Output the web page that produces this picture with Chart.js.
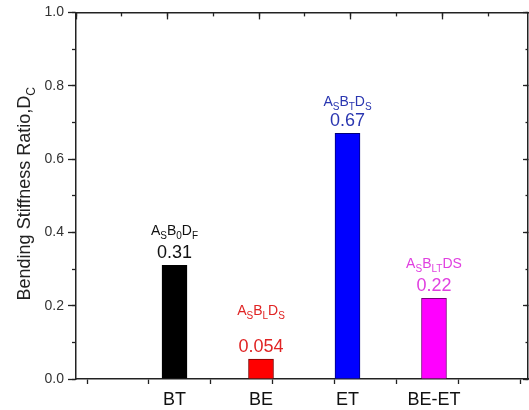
<!DOCTYPE html>
<html>
<head>
<meta charset="utf-8">
<script src="https://cdn.jsdelivr.net/npm/chart.js@4.4.1/dist/chart.umd.min.js"></script>
<style>
  html, body { margin: 0; padding: 0; background: #fff; }
  #wrap { width: 529px; height: 410px; }
</style>
</head>
<body>
<div id="wrap"><canvas id="stiffnessChart" width="529" height="410"></canvas></div>
<script>
// values
const categories = ["BT", "BE", "ET", "BE-ET"];
const stiffnessRatio = [0.31, 0.054, 0.67, 0.22];
const valueLabels = ["0.31", "0.054", "0.67", "0.22"];
const configLabels = ["A_{S}B_{0}D_{F}", "A_{S}B_{L}D_{S}", "A_{S}B_{T}D_{S}", "A_{S}B_{LT}DS"];
const yTickLabels = ["0.0", "0.2", "0.4", "0.6", "0.8", "1.0"];
const yTitle = "Bending Stiffness Ratio,D_{C}";

const barColors = ["#000000", "#ff0000", "#0000ff", "#ff00ff"];
const barEdges = ["#000000", "#7a0000", "#00007a", "#7a007a"];
const textColors = ["#111111", "#e02424", "#2a36b0", "#e040e0"];
const labelGaps = [23, 37, 20, 23]; // hand placed text in the original
const FONT = "Arial, 'Liberation Sans', sans-serif";
const AXIS = "#222";

// draws text with _{...} subscripts, centred on x
function drawRich(ctx, text, x, y, size, color) {
  const parts = text.split(/(_\{[^}]*\})/).filter(p => p.length);
  const subSize = Math.round(size * 0.68);
  const segs = parts.map(p => {
    const sub = p.startsWith("_{");
    const str = sub ? p.slice(2, -1) : p;
    ctx.font = `${sub ? subSize : size}px ${FONT}`;
    return { str, sub, w: ctx.measureText(str).width };
  });
  const total = segs.reduce((a, s) => a + s.w, 0);
  let cx = x - total / 2;
  ctx.fillStyle = color;
  ctx.textAlign = "left";
  ctx.textBaseline = "alphabetic";
  segs.forEach(s => {
    ctx.font = `${s.sub ? subSize : size}px ${FONT}`;
    ctx.fillText(s.str, cx, s.sub ? y + size * 0.28 : y);
    cx += s.w;
  });
}

const annotations = {
  id: "annotations",
  afterDatasetsDraw(chart) {
    const ctx = chart.ctx;
    const meta = chart.getDatasetMeta(0);
    ctx.save();
    meta.data.forEach((bar, i) => {
      const vy = bar.y - 7;
      ctx.font = `18px ${FONT}`;
      ctx.fillStyle = textColors[i];
      ctx.textAlign = "center";
      ctx.textBaseline = "alphabetic";
      ctx.fillText(valueLabels[i], bar.x, vy);
      drawRich(ctx, configLabels[i], bar.x, vy - labelGaps[i], 14, textColors[i]);
    });
    ctx.restore();
  },
  afterDraw(chart) {
    const ctx = chart.ctx;
    const area = chart.chartArea;
    ctx.save();
    ctx.translate(chart.scales.y.left + 30, (area.top + area.bottom) / 2 - 2);
    ctx.rotate(-Math.PI / 2);
    drawRich(ctx, yTitle, 0, 0, 18, AXIS);
    ctx.restore();
  }
};

// decoration axes: tick marks only, no labels, no own space
function tickAxis(position, step, length, min, max, border, weight) {
  const horizontal = position === "top" || position === "bottom";
  return {
    type: "linear",
    position,
    min,
    max,
    weight,
    offset: false,
    ticks: { display: false, stepSize: step, includeBounds: false },
    grid: { drawOnChartArea: false, offset: false, tickLength: length, tickColor: AXIS, tickWidth: 1.3 },
    border: { display: border, color: AXIS, width: 1.5 },
    afterFit: s => { if (horizontal) s.height = 0; else s.width = 0; }
  };
}

new Chart(document.getElementById("stiffnessChart"), {
  type: "bar",
  data: {
    datasets: [{
      data: stiffnessRatio.map((v, i) => ({ x: i + 1, y: v })),
      backgroundColor: barColors,
      borderColor: barEdges,
      borderWidth: 1,
      barThickness: 25,
      xAxisID: "x",
      yAxisID: "y"
    }]
  },
  options: {
    responsive: false,
    animation: false,
    layout: { padding: { top: 11, right: 1, bottom: 0, left: 0 } },
    plugins: { legend: { display: false }, tooltip: { enabled: false } },
    scales: {
      x: {
        type: "linear",
        position: "bottom",
        min: -0.139,
        max: 5.087,
        weight: 1,
        offset: false,
        grid: { display: false, drawTicks: false, offset: false },
        border: { display: false },
        afterBuildTicks: s => { s.ticks = categories.map((c, i) => ({ value: i + 1 })); },
        ticks: {
          autoSkip: false,
          maxRotation: 0,
          padding: 10,
          color: "#111",
          font: { family: FONT, size: 18 },
          callback: v => categories[v - 1] ?? ""
        },
        afterFit: s => { s.height = 31; }
      },
      xTicks: tickAxis("bottom", 1, 5, -0.178, 7.129, true, 0),
      y: {
        type: "linear",
        position: "left",
        min: 0,
        max: 1,
        weight: 1,
        grid: { drawOnChartArea: false, tickLength: 8, tickColor: AXIS, tickWidth: 1.3 },
        border: { display: true, color: AXIS, width: 1.5 },
        ticks: {
          stepSize: 0.2,
          padding: 4,
          color: "#333",
          font: { family: FONT, size: 14 },
          callback: (v, i) => yTickLabels[i]
        },
        afterFit: s => { s.width = 76; }
      },
      yMinor: tickAxis("left", 0.1, 4, 0, 1, false, 0),
      yRight: tickAxis("right", 0.2, -5, 0, 1, true, 0),
      yRightMinor: tickAxis("right", 0.1, -2.5, 0, 1, false, 1),
      xTop: tickAxis("top", 2, -7, 0, 9.87, true, 0),
      xTopMinor: tickAxis("top", 1, -4, 0, 9.87, false, 1)
    }
  },
  plugins: [annotations]
});
</script>
</body>
</html>
